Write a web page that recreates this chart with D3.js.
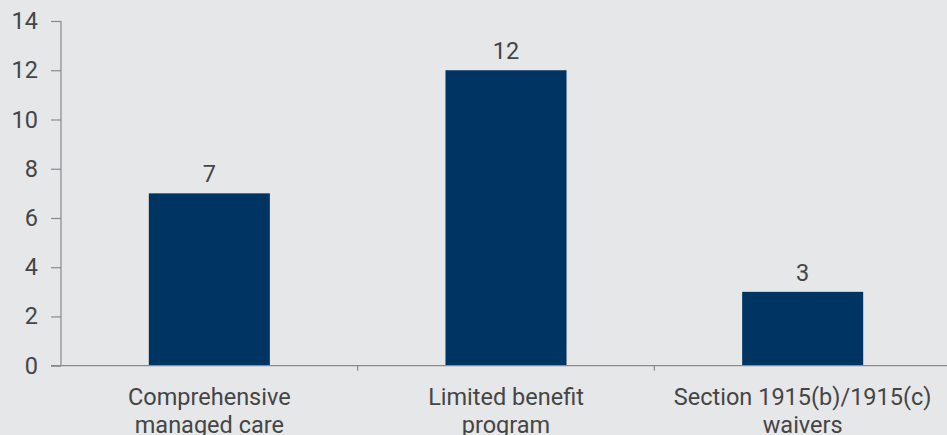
<!DOCTYPE html>
<html>
<head>
<meta charset="utf-8">
<script src="https://cdn.jsdelivr.net/npm/d3@7"></script>
<style>
  html, body { margin: 0; padding: 0; background: #e6e7e8; }
  svg { display: block; }
  text { font-family: Roboto, "Noto Sans", sans-serif; fill: #454545; font-weight: 400; }
</style>
</head>
<body>
<svg id="chart" width="947" height="435"></svg>
<script>
const categories = [["Comprehensive", "managed care"], ["Limited benefit", "program"], ["Section 1915(b)/1915(c)", "waivers"]];
const values = [7, 12, 3];
const yTicks = [0, 2, 4, 6, 8, 10, 12, 14];

const W = 947, H = 435;
const mLeft = 61, mRight = 951, mTop = 21, mBottom = 365.7;
const svg = d3.select("#chart");
svg.append("rect").attr("width", W).attr("height", H).attr("fill", "#e6e7e8");

const keys = categories.map(c => c.join(" "));
const x = d3.scaleBand().domain(keys).range([mLeft, mRight]).padding(0);
const y = d3.scaleLinear().domain([0, 14]).range([mBottom, mTop]);
const barW = x.bandwidth() * 0.408;
const fontSize = 23.5;

// bars
svg.append("g").selectAll("rect").data(values).join("rect")
  .attr("x", (d, i) => x(keys[i]) + x.bandwidth() / 2 - barW / 2)
  .attr("y", d => y(d))
  .attr("width", barW)
  .attr("height", d => y(0) - y(d))
  .attr("fill", "#003462");

// value labels
svg.append("g").selectAll("text").data(values).join("text")
  .attr("x", (d, i) => x(keys[i]) + x.bandwidth() / 2)
  .attr("y", d => y(d) - 11)
  .attr("text-anchor", "middle")
  .attr("font-size", fontSize)
  .text(d => d);

// y axis
const yAxis = svg.append("g").attr("transform", `translate(${mLeft},0)`)
  .call(d3.axisLeft(y).tickValues(yTicks).tickSize(10).tickPadding(13).tickFormat(d3.format("d")));
yAxis.selectAll("path, line").attr("stroke", "#8a8a8a").attr("stroke-width", 1.2);
yAxis.select(".domain").attr("d", `M0,${mTop}V${mBottom}`);
yAxis.selectAll("text").attr("font-size", fontSize).attr("font-family", null).attr("fill", null);

// x axis
const xAxisG = svg.append("g").attr("transform", `translate(0,${mBottom})`);
xAxisG.append("line").attr("x1", mLeft - 10).attr("x2", W).attr("y1", 0).attr("y2", 0)
  .attr("stroke", "#8a8a8a").attr("stroke-width", 1.2);
xAxisG.selectAll("line.tick").data(keys.slice(1)).join("line")
  .attr("class", "tick")
  .attr("x1", d => x(d)).attr("x2", d => x(d))
  .attr("y1", 0).attr("y2", 5)
  .attr("stroke", "#8a8a8a").attr("stroke-width", 1.2);

const lbl = xAxisG.selectAll("text.cat").data(categories).join("text")
  .attr("class", "cat")
  .attr("text-anchor", "middle")
  .attr("font-size", fontSize)
  .attr("transform", (d, i) => `translate(${x(keys[i]) + x.bandwidth() / 2},0)`);
lbl.selectAll("tspan").data(d => d).join("tspan")
  .attr("x", 0)
  .attr("y", (d, i) => 39.5 + i * 27.5)
  .text(d => d);
</script>
</body>
</html>
